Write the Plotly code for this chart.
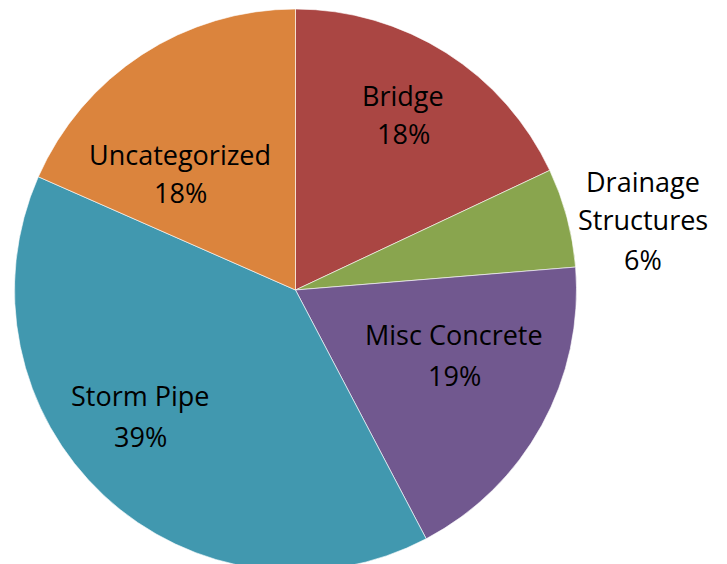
import plotly.graph_objects as go

categories = ["Bridge", "Drainage Structures", "Misc Concrete", "Storm Pipe", "Uncategorized"]
values = [18.0, 5.7, 18.6, 39.3, 18.4]
colors = ["#AA4643", "#89A54E", "#71588F", "#4198AF", "#DB843D"]

W, H = 727, 600
cx, cy, r = 295.5, 290, 281

fig = go.Figure(go.Pie(
    labels=categories, values=values, sort=False, direction="clockwise", rotation=0,
    marker=dict(colors=colors, line=dict(color="rgba(255,255,255,0.6)", width=1)),
    textinfo="none", hoverinfo="label+percent", showlegend=False,
    domain=dict(x=[(cx - r) / W, (cx + r) / W], y=[1 - (cy + r) / H, 1 - (cy - r) / H]),
))

total = sum(values)
pct = {c: f"{int(v / total * 100 + 0.5)}%" for c, v in zip(categories, values)}
label_lines = {
    "Bridge": (["Bridge", pct["Bridge"]], 403, [95, 133]),
    "Drainage Structures": (["Drainage", "Structures", pct["Drainage Structures"]], 643, [181, 219, 259]),
    "Misc Concrete": (["Misc Concrete", pct["Misc Concrete"]], 454, [334, 375]),
    "Storm Pipe": (["Storm Pipe", pct["Storm Pipe"]], 140, [395, 436]),
    "Uncategorized": (["Uncategorized", pct["Uncategorized"]], 180, [155, 192]),
}
for key, (lines, x, ys) in label_lines.items():
    for t, y in zip(lines, ys):
        fig.add_annotation(x=x / W, y=1 - y / H, xref="paper", yref="paper", text=t,
                           showarrow=False, xanchor="center", yanchor="middle",
                           font=dict(family="Open Sans", size=27, color="#000000"))

fig.update_layout(width=W, height=H, margin=dict(l=0, r=0, t=0, b=0),
                  paper_bgcolor="white", plot_bgcolor="white")

fig.write_html("out.html", config={"displayModeBar": False},
               post_script="document.body.style.margin='0';document.body.style.overflow='hidden';")
